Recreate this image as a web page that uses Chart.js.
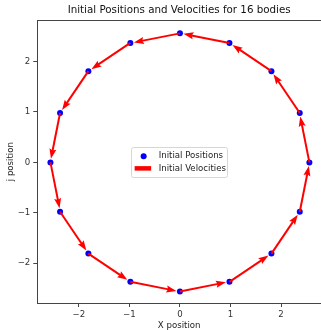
<!DOCTYPE html>
<html>
<head>
<meta charset="utf-8">
<title>Initial Positions and Velocities</title>
<script src="https://cdn.jsdelivr.net/npm/chart.js@4.4.0/dist/chart.umd.min.js"></script>
<style>
  body { margin: 0; background: #fff; }
  canvas { display: block; }
</style>
</head>
<body>
<canvas id="grafico" width="321" height="330"></canvas>
<script>
// Posiciones iniciales de los 16 cuerpos
const posX = [2.56, 2.37, 1.81, 0.98, 0, -0.98, -1.81, -2.37, -2.56, -2.37, -1.81, -0.98, 0, 0.98, 1.81, 2.37];
const posY = [0, 0.98, 1.81, 2.37, 2.56, 2.37, 1.81, 0.98, 0, -0.98, -1.81, -2.37, -2.56, -2.37, -1.81, -0.98];

// Velocidades iniciales (componentes x e y)
const velX = [-0.18, -0.52, -0.77, -0.91, -0.91, -0.77, -0.52, -0.18, 0.18, 0.52, 0.77, 0.91, 0.91, 0.77, 0.52, 0.18];
const velY = [0.91, 0.77, 0.52, 0.18, -0.18, -0.52, -0.77, -0.91, -0.91, -0.77, -0.52, -0.18, 0.18, 0.52, 0.77, 0.91];

// Marcas de los ejes
const ticksX = [-2, -1, 0, 1, 2];
const ticksY = [-2, -1, 0, 1, 2];

const colorEje = '#444';
const letraChica = 8.6;

Chart.defaults.font.family = "'DejaVu Sans', sans-serif";
Chart.defaults.color = '#262626';

// Dibuja las flechas de velocidad usando las escalas del gráfico
const flechas = {
    id: 'flechas',
    afterDatasetsDraw(chart) {
        const { ctx, scales } = chart;
        ctx.save();
        ctx.strokeStyle = '#ff0000';
        ctx.fillStyle = '#ff0000';
        ctx.lineWidth = 2;
        for (let i = 0; i < posX.length; i++) {
            const x0 = scales.x.getPixelForValue(posX[i]);
            const y0 = scales.y.getPixelForValue(posY[i]);
            const x1 = scales.x.getPixelForValue(posX[i] + velX[i]);
            const y1 = scales.y.getPixelForValue(posY[i] + velY[i]);
            const largo = Math.hypot(x1 - x0, y1 - y0);
            const ux = (x1 - x0) / largo;
            const uy = (y1 - y0) / largo;
            const nx = -uy;
            const ny = ux;

            // Cuerpo de la flecha
            ctx.beginPath();
            ctx.moveTo(x0, y0);
            ctx.lineTo(x1 - ux * 8, y1 - uy * 8);
            ctx.stroke();

            // Punta
            ctx.beginPath();
            ctx.moveTo(x1, y1);
            ctx.lineTo(x1 - ux * 10 + nx * 3.5, y1 - uy * 10 + ny * 3.5);
            ctx.lineTo(x1 - ux * 8.5, y1 - uy * 8.5);
            ctx.lineTo(x1 - ux * 10 - nx * 3.5, y1 - uy * 10 - ny * 3.5);
            ctx.closePath();
            ctx.fill();
        }
        ctx.restore();
    }
};

// Borde superior del área de trazado
const marco = {
    id: 'marco',
    afterDraw(chart) {
        const { ctx, chartArea } = chart;
        ctx.save();
        ctx.strokeStyle = colorEje;
        ctx.lineWidth = 1;
        ctx.beginPath();
        ctx.moveTo(chartArea.left, Math.round(chartArea.top) + 0.5);
        ctx.lineTo(chartArea.right, Math.round(chartArea.top) + 0.5);
        ctx.stroke();
        ctx.restore();
    }
};

// Leyenda centrada dentro del área de trazado
const leyenda = {
    id: 'leyenda',
    afterDraw(chart) {
        const { ctx } = chart;
        const cx = (chart.chartArea.left + chart.chartArea.right) / 2;
        const cy = (chart.chartArea.top + chart.chartArea.bottom) / 2;
        const ancho = 96;
        const alto = 30;
        const x = cx - ancho / 2;
        const y = cy - alto / 2;

        ctx.save();
        ctx.fillStyle = 'rgba(255,255,255,0.8)';
        ctx.strokeStyle = '#d6d6d6';
        ctx.lineWidth = 1;
        ctx.beginPath();
        ctx.roundRect(Math.round(x) + 0.5, Math.round(y) + 0.5, ancho, alto, 2);
        ctx.fill();
        ctx.stroke();

        // Marcador de posiciones
        ctx.fillStyle = '#0000ff';
        ctx.beginPath();
        ctx.arc(x + 12.5, y + 9.5, 3, 0, Math.PI * 2);
        ctx.fill();

        // Marcador de velocidades
        ctx.fillStyle = '#ff0000';
        ctx.fillRect(x + 3.5, y + 19.5, 16.5, 4.5);

        ctx.fillStyle = '#222';
        ctx.font = letraChica + "px 'DejaVu Sans', sans-serif";
        ctx.textBaseline = 'middle';
        ctx.textAlign = 'left';
        ctx.fillText('Initial Positions', x + 27.5, y + 9.5);
        ctx.fillText('Initial Velocities', x + 27.5, y + 22);
        ctx.restore();
    }
};

const puntos = posX.map((x, i) => ({ x: x, y: posY[i] }));

const menos = v => String(v).replace('-', '\u2212');

// Quita los márgenes que la escala reserva para sus etiquetas
function sinMargen(s) {
    s.paddingLeft = 0;
    s.paddingRight = 0;
    s.paddingTop = 0;
    s.paddingBottom = 0;
}

new Chart(document.getElementById('grafico'), {
    type: 'scatter',
    data: {
        datasets: [{
            label: 'Initial Positions',
            data: puntos,
            backgroundColor: '#0000ff',
            borderColor: '#0000ff',
            borderWidth: 0,
            pointRadius: 3
        }]
    },
    options: {
        responsive: false,
        animation: false,
        layout: { padding: 0, autoPadding: false },
        plugins: {
            legend: { display: false },
            tooltip: { enabled: false },
            title: {
                display: true,
                text: 'Initial Positions and Velocities for 16 bodies',
                fullSize: false,
                color: '#111',
                font: { size: 10.3, weight: 'normal' },
                padding: { top: 4.3, bottom: 3.6 }
            }
        },
        scales: {
            x: {
                type: 'linear',
                min: -2.82,
                max: 2.79,
                afterBuildTicks: s => { s.ticks = ticksX.map(v => ({ value: v })); },
                afterFit: s => { s.height = 27; sinMargen(s); },
                ticks: { font: { size: letraChica }, padding: 2.5, color: '#333', callback: menos },
                grid: { drawOnChartArea: false, drawTicks: true, tickLength: 4, color: colorEje },
                border: { display: true, color: colorEje, width: 1 },
                title: { display: true, text: 'X position', font: { size: letraChica }, color: '#222', padding: { top: 0, bottom: -0.5 } }
            },
            y: {
                type: 'linear',
                min: -2.79,
                max: 2.82,
                afterBuildTicks: s => { s.ticks = ticksY.map(v => ({ value: v })); },
                afterFit: s => { s.width = 37.3; sinMargen(s); },
                ticks: { font: { size: letraChica }, padding: 3, color: '#333', callback: menos },
                grid: { drawOnChartArea: false, drawTicks: true, tickLength: 4, color: colorEje },
                border: { display: true, color: colorEje, width: 1 },
                title: { display: true, text: 'j position', font: { size: letraChica }, color: '#222', padding: { top: 5.5, bottom: 0 } }
            }
        }
    },
    plugins: [flechas, marco, leyenda]
});
</script>
</body>
</html>
